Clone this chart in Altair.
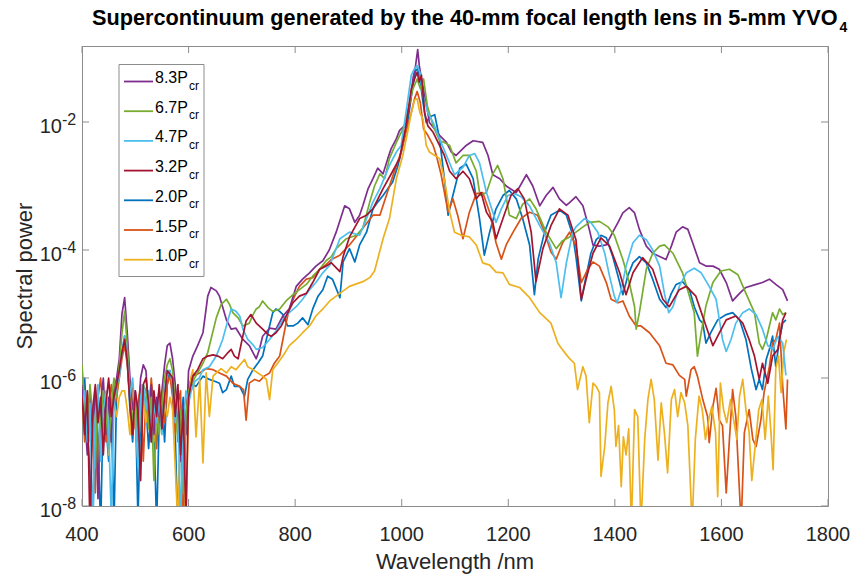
import altair as alt
import pandas as pd

# ---------------- data ----------------
LEGEND_LABELS = ["8.3", "6.7", "4.7", "3.2", "2.0", "1.5", "1.0"]
COLORS = {"8.3": "#7E2F8E", "6.7": "#77AC30", "4.7": "#4DBEEE", "3.2": "#A2142F",
          "2.0": "#0072BD", "1.5": "#D95319", "1.0": "#EDB120"}
DRAW_ORDER = ["2.0", "1.5", "1.0", "8.3", "6.7", "4.7", "3.2"]

WL_SHORT = [400, 405, 410, 415, 420, 425, 430, 435, 440, 445, 450, 455, 460, 465, 470, 475, 480, 485, 490, 495,
            500, 505, 510, 515, 520, 525, 530, 535, 540, 545, 550, 555, 560, 565, 570, 575, 580, 585, 590, 595, 600]

# 8.3 Pcr
WL_83 = WL_SHORT + [608, 617, 627, 636, 642, 652, 658, 671, 680, 689, 702, 714, 727, 733, 739, 752, 764, 777, 789, 802,
                    814, 827, 839, 852, 864, 877, 893, 902, 912, 921, 927, 937, 946, 955, 965, 974, 980, 990, 996, 1005,
                    1015, 1021, 1026, 1030, 1033, 1037, 1043, 1049, 1052, 1071, 1084, 1093, 1102, 1121, 1134, 1152, 1162, 1171, 1184, 1196,
                    1215, 1234, 1246, 1259, 1271, 1284, 1296, 1309, 1315, 1327, 1340, 1352, 1359, 1371, 1384, 1396, 1406, 1415, 1427, 1437,
                    1446, 1459, 1471, 1484, 1496, 1506, 1515, 1527, 1537, 1546, 1559, 1571, 1584, 1596, 1609, 1621, 1634, 1646, 1665, 1677,
                    1690, 1702, 1715, 1724]
P_83 = [7.9e-7, 2.5e-7, 6.3e-8, 5.0e-7, 1.6e-7, 6.3e-7, 1.3e-8, 4.0e-7, 1.0e-6, 1.3e-7, 5.0e-7, 1.0e-7, 6.3e-7, 1.0e-6,
        2.0e-6, 1.0e-5, 1.8e-5, 5.0e-6, 1.0e-6, 3.2e-7, 6.3e-7, 1.6e-7, 1.0e-6, 1.6e-6, 1.3e-6, 3.2e-7, 7.9e-7, 1.3e-7,
        5.0e-7, 2.5e-7, 6.3e-7, 1.6e-6, 3.2e-6, 3.5e-6, 2.0e-6, 7.9e-7, 2.5e-7, 5.0e-8, 4.0e-7, 1.3e-7, 1.3e-6,
        2.2e-6, 3.2e-6, 5.1e-6, 1.9e-5, 2.6e-5, 2.3e-5, 1.9e-5, 8.1e-6, 5.8e-6, 6.0e-6,
        4.0e-6, 3.2e-6, 2.0e-6, 2.8e-6, 4.5e-6, 6.0e-6, 5.8e-6, 9.3e-6, 1.2e-5, 2.7e-5,
        3.5e-5, 4.4e-5, 5.6e-5, 6.8e-5, 1.0e-4, 1.9e-4, 4.9e-4, 4.4e-4, 2.7e-4, 3.5e-4,
        4.9e-4, 9.1e-4, 1.3e-3, 1.9e-3, 1.55e-3, 2.7e-3, 3.8e-3, 5.5e-3, 7.4e-3, 8.7e-3,
        1.8e-2, 4.7e-2, 7.6e-2, 0.135, 7.6e-2, 4.7e-2, 2.6e-2, 1.4e-2, 9.8e-3, 6.2e-3,
        4.8e-3, 3.4e-3, 3.0e-3, 4.3e-3, 5.1e-3, 4.8e-3, 3.0e-3, 1.5e-3, 1.3e-3, 1.0e-3,
        7.9e-4, 1.5e-3, 1.0e-3, 4.9e-4, 7.1e-4, 9.5e-4, 6.3e-4, 5.0e-4, 5.5e-4, 6.8e-4,
        4.9e-4, 2.1e-4, 1.2e-4, 1.15e-4, 1.2e-4, 1.9e-4, 2.7e-4, 3.8e-4, 4.6e-4, 3.8e-4,
        2.1e-4, 1.15e-4, 8.9e-5, 7.9e-5, 7.1e-5, 1.15e-4, 1.9e-4, 2.3e-4, 2.1e-4, 1.3e-4,
        6.3e-5, 5.6e-5, 5.6e-5, 5.0e-5, 3.1e-5, 1.6e-5, 2.1e-5, 2.6e-5, 2.9e-5, 3.1e-5,
        3.5e-5, 2.9e-5, 2.4e-5, 1.6e-5]

# 6.7 Pcr
WL_67 = WL_SHORT + [608, 617, 627, 636, 642, 652, 661, 671, 677, 683, 693, 702, 708, 714, 721, 727, 733, 739, 749, 758,
                    771, 783, 796, 808, 821, 833, 846, 858, 868, 877, 896, 915, 927, 940, 949, 959, 968, 977, 990, 1005,
                    1015, 1021, 1029, 1035, 1041, 1048, 1059, 1071, 1080, 1090, 1102, 1115, 1127, 1140, 1147, 1159, 1171, 1180, 1190, 1202,
                    1215, 1227, 1240, 1252, 1271, 1290, 1302, 1315, 1334, 1352, 1371, 1387, 1399, 1415, 1427, 1437, 1440, 1446, 1459, 1471,
                    1484, 1493, 1509, 1527, 1540, 1549, 1555, 1562, 1571, 1584, 1599, 1615, 1631, 1646, 1662, 1671, 1677, 1684, 1690, 1696,
                    1702, 1709, 1715, 1721]
P_67 = [1.6e-6, 4.0e-7, 1.3e-7, 7.9e-7, 2.5e-7, 4.0e-8, 5.0e-7, 1.6e-7, 6.3e-7, 3.2e-7, 7.9e-8, 4.0e-7, 1.0e-6, 5.0e-7,
        1.6e-6, 5.0e-6, 1.1e-5, 3.2e-6, 6.3e-7, 2.0e-7, 5.0e-7, 1.0e-7, 4.0e-7, 7.9e-7, 6.3e-7, 1.6e-7, 5.0e-7, 2.5e-8,
        3.2e-7, 1.3e-7, 4.0e-7, 1.0e-6, 1.6e-6, 2.0e-6, 1.3e-6, 4.0e-7, 1.0e-7, 3.2e-7, 1.6e-8, 2.5e-7, 6.3e-7,
        8.9e-7, 1.2e-6, 1.7e-6, 2.5e-6, 4.0e-6, 8.7e-6, 1.4e-5, 1.7e-5, 1.4e-5, 1.05e-5,
        8.7e-6, 6.5e-6, 6.8e-6, 7.2e-6, 9.8e-6, 1.2e-5, 1.3e-5, 1.6e-5, 1.26e-5, 1.1e-5,
        1.2e-5, 1.6e-5, 2.0e-5, 2.4e-5, 2.9e-5, 3.9e-5, 5.0e-5, 6.8e-5, 7.9e-5, 1.05e-4,
        1.5e-4, 1.7e-4, 2.2e-4, 5.6e-4, 1.0e-3, 1.55e-3, 1.3e-3, 2.7e-3, 4.8e-3, 8.7e-3,
        2.0e-2, 3.3e-2, 4.7e-2, 3.3e-2, 4.7e-2, 1.8e-2, 8.7e-3, 5.1e-3, 4.8e-3, 4.3e-3,
        2.3e-3, 3.0e-3, 3.0e-3, 1.7e-3, 7.1e-4, 7.9e-4, 1.55e-3, 2.1e-3, 1.3e-3, 3.5e-4,
        3.1e-4, 5.2e-4, 6.3e-4, 4.4e-4, 1.9e-4, 1.05e-4, 1.4e-4, 1.6e-4, 2.1e-4, 2.7e-4,
        2.8e-4, 2.3e-4, 1.7e-4, 7.1e-5, 3.1e-5, 1.3e-5, 5.8e-6, 1.05e-5, 5.0e-5, 8.9e-5,
        1.15e-4, 1.2e-4, 8.9e-5, 4.4e-5, 1.9e-5, 1.05e-5, 2.2e-6, 5.1e-6, 1.35e-5, 3.1e-5,
        4.7e-5, 5.0e-5, 4.1e-5, 2.1e-5, 1.05e-5, 3.5e-6, 2.8e-6, 4.0e-6, 6.5e-6, 1.05e-5,
        8.1e-6, 1.2e-5, 9.8e-6, 1.05e-5]

# 4.7 Pcr
WL_47 = WL_SHORT + [605, 612, 620, 627, 639, 652, 664, 674, 680, 689, 696, 702, 711, 721, 727, 739, 752, 764, 777, 789,
                    802, 814, 827, 839, 852, 865, 884, 902, 921, 934, 946, 959, 977, 990, 999, 1008, 1018, 1024, 1029, 1034,
                    1040, 1049, 1059, 1071, 1084, 1099, 1115, 1127, 1137, 1146, 1159, 1171, 1177, 1187, 1199, 1212, 1224, 1240, 1259, 1277,
                    1290, 1299, 1309, 1321, 1327, 1343, 1355, 1368, 1381, 1390, 1399, 1404, 1412, 1421, 1434, 1446, 1459, 1471, 1484, 1493,
                    1501, 1509, 1521, 1534, 1549, 1562, 1577, 1590, 1602, 1609, 1618, 1627, 1640, 1652, 1665, 1677, 1687, 1696, 1706, 1715,
                    1721]
P_47 = [3.2e-7, 6.3e-7, 1.0e-7, 4.0e-7, 5.0e-9, 2.5e-7, 7.9e-7, 5.0e-8, 3.2e-7, 6.3e-7, 1.6e-7, 6.3e-9, 4.0e-7, 7.9e-7,
        1.0e-6, 2.5e-6, 4.5e-6, 2.0e-6, 5.0e-7, 1.0e-6, 2.5e-7, 4.0e-8, 5.0e-7, 7.9e-7, 3.2e-7, 6.3e-7, 1.0e-7, 4.0e-7,
        2.0e-7, 5.0e-7, 1.3e-7, 6.3e-7, 1.3e-6, 1.3e-6, 7.9e-7, 2.0e-7, 5.0e-7, 5.0e-9, 1.6e-7, 6.3e-7, 4.0e-7,
        6.3e-7, 8.9e-7, 1.0e-6, 1.35e-6, 1.5e-6, 2.2e-6, 4.0e-6, 8.1e-6, 1.2e-5, 1.1e-5,
        9.3e-6, 5.8e-6, 4.0e-6, 3.3e-6, 2.8e-6, 3.0e-6, 4.0e-6, 5.4e-6, 8.1e-6, 1.05e-5,
        1.3e-5, 1.7e-5, 2.4e-5, 3.1e-5, 4.4e-5, 5.8e-5, 1.5e-4, 1.9e-4, 1.7e-4, 3.1e-4,
        5.6e-4, 9.1e-4, 2.1e-3, 3.4e-3, 4.3e-3, 1.4e-2, 5.4e-2, 6.8e-2, 7.6e-2, 6.0e-2,
        2.6e-2, 1.4e-2, 9.8e-3, 5.5e-3, 3.0e-3, 1.5e-3, 1.95e-3, 3.0e-3, 3.2e-3, 2.3e-3,
        7.9e-4, 3.9e-4, 2.7e-4, 4.4e-4, 7.1e-4, 7.6e-4, 6.8e-4, 4.9e-4, 2.4e-4, 1.3e-4,
        6.3e-5, 1.8e-5, 6.3e-5, 1.9e-4, 2.3e-4, 3.1e-4, 2.7e-4, 1.9e-4, 8.9e-5, 3.9e-5,
        1.9e-5, 1.5e-5, 2.4e-5, 5.6e-5, 1.3e-4, 1.7e-4, 1.45e-4, 1.0e-4, 5.6e-5, 2.1e-5,
        1.05e-5, 1.3e-5, 2.7e-5, 4.4e-5, 5.2e-5, 4.4e-5, 2.7e-5, 1.7e-5, 4.0e-6, 2.6e-6,
        4.0e-6, 7.2e-6, 1.05e-5, 1.2e-5, 9.8e-6, 5.8e-6, 3.2e-6, 2.8e-6, 4.5e-6, 3.5e-6,
        1.1e-6]

# 3.2 Pcr
WL_32 = WL_SHORT + [608, 617, 627, 636, 646, 655, 664, 674, 680, 686, 693, 699, 708, 717, 727, 739, 749, 755, 764, 774,
                    783, 796, 808, 821, 833, 846, 858, 868, 884, 890, 902, 921, 934, 946, 965, 983, 996, 1008, 1018, 1024,
                    1029, 1033, 1037, 1043, 1049, 1059, 1071, 1080, 1090, 1102, 1115, 1127, 1140, 1149, 1159, 1171, 1177, 1190, 1205, 1218,
                    1230, 1243, 1252, 1265, 1280, 1296, 1312, 1327, 1337, 1346, 1359, 1374, 1390, 1409, 1421, 1434, 1452, 1471, 1490, 1502,
                    1521, 1534, 1552, 1565, 1571, 1584, 1593, 1609, 1627, 1640, 1652, 1662, 1671, 1677, 1687, 1696, 1706, 1715, 1721]
P_32 = [5.0e-7, 1.3e-7, 6.3e-7, 4.0e-9, 3.2e-7, 7.9e-7, 2.0e-7, 5.0e-7, 6.3e-8, 4.0e-7, 1.0e-6, 2.5e-7, 5.0e-7, 7.9e-7,
        1.3e-6, 2.5e-6, 4.0e-6, 1.8e-6, 4.0e-7, 1.3e-7, 6.3e-7, 3.2e-7, 2.5e-8, 7.9e-7, 1.0e-6, 4.0e-7, 1.0e-7, 6.3e-7,
        2.5e-7, 7.9e-7, 1.6e-7, 5.0e-7, 1.3e-6, 1.15e-6, 1.0e-6, 2.5e-7, 7.9e-7, 6.3e-8, 3.2e-7, 6.3e-9, 5.0e-7,
        1.07e-6, 1.35e-6, 2.0e-6, 2.2e-6, 2.3e-6, 2.2e-6, 2.0e-6, 2.5e-6, 2.8e-6, 2.2e-6,
        2.0e-6, 3.5e-6, 7.8e-6, 9.8e-6, 7.2e-6, 5.8e-6, 4.8e-6, 4.5e-6, 5.1e-6, 6.5e-6,
        9.3e-6, 1.5e-5, 1.9e-5, 2.1e-5, 3.1e-5, 5.0e-5, 5.6e-5, 6.3e-5, 4.6e-5, 7.9e-5,
        1.6e-4, 3.1e-4, 3.5e-4, 4.4e-4, 9.1e-4, 1.7e-3, 2.7e-3, 8.7e-3, 3.3e-2, 4.7e-2,
        6.0e-2, 4.2e-2, 5.4e-2, 1.4e-2, 8.7e-3, 6.9e-3, 4.3e-3, 3.0e-3, 1.7e-3, 1.3e-3,
        1.7e-3, 1.3e-3, 6.3e-4, 7.9e-4, 3.9e-4, 2.7e-4, 1.5e-4, 3.1e-4, 7.1e-4, 9.1e-4,
        6.3e-4, 1.9e-4, 3.2e-5, 1.05e-4, 2.4e-4, 4.4e-4, 3.5e-4, 1.45e-4, 1.7e-5, 3.5e-5,
        8.9e-5, 1.55e-4, 1.15e-4, 4.4e-5, 2.0e-5, 4.4e-5, 7.6e-5, 5.0e-5, 1.7e-5, 1.3e-5,
        2.4e-5, 2.7e-5, 1.9e-5, 9.1e-6, 6.5e-6, 3.2e-6, 4.5e-6, 8.1e-6, 9.3e-6, 7.2e-6,
        4.0e-6, 2.2e-6, 9.5e-7, 1.7e-6, 8.3e-7, 2.2e-6, 2.8e-6, 8.1e-6, 1.05e-5]

# 2.0 Pcr
WL_20 = WL_SHORT + [602, 614, 627, 639, 649, 658, 664, 671, 680, 686, 696, 705, 711, 721, 730, 739, 746, 752, 758, 764,
                    771, 777, 786, 796, 805, 814, 824, 833, 843, 852, 861, 870, 884, 890, 902, 912, 921, 934, 946, 955,
                    965, 974, 983, 993, 1002, 1011, 1021, 1026, 1030, 1035, 1040, 1046, 1052, 1062, 1071, 1080, 1087, 1096, 1109, 1121,
                    1134, 1146, 1155, 1165, 1177, 1190, 1202, 1215, 1227, 1240, 1249, 1256, 1268, 1280, 1296, 1309, 1321, 1327, 1337, 1346,
                    1355, 1365, 1374, 1384, 1396, 1406, 1415, 1424, 1434, 1446, 1459, 1471, 1484, 1496, 1506, 1515, 1527, 1540, 1549, 1559,
                    1565, 1571, 1580, 1593, 1609, 1621, 1634, 1646, 1656, 1665, 1671, 1677, 1684, 1690, 1696, 1702, 1709, 1715, 1721]
P_20 = [2.5e-7, 1.0e-6, 1.6e-7, 3.2e-8, 3.2e-9, 4.0e-7, 1.3e-7, 4.0e-9, 5.0e-7, 2.0e-7, 5.0e-8, 3.2e-7, 5.0e-9, 6.3e-7,
        1.3e-6, 2.5e-6, 4.5e-6, 2.0e-6, 3.2e-7, 1.0e-7, 5.0e-7, 6.3e-9, 2.5e-7, 6.3e-7, 4.0e-7, 7.9e-8, 3.2e-7, 1.6e-7,
        5.0e-9, 2.5e-7, 5.0e-7, 1.0e-7, 7.9e-7, 1.3e-6, 6.3e-7, 1.3e-7, 4.0e-9, 2.0e-7, 5.0e-7, 1.6e-7, 4.0e-7,
        8.3e-7, 7.4e-7, 1.07e-6, 9.5e-7, 8.9e-7, 8.3e-7, 5.9e-7, 6.6e-7, 1.07e-6, 7.4e-7,
        7.4e-7, 5.2e-7, 9.5e-7, 1.35e-6, 1.7e-6, 2.2e-6, 4.0e-6, 6.5e-6, 1.05e-5, 1.2e-5,
        1.1e-5, 9.8e-6, 6.5e-6, 6.5e-6, 7.2e-6, 8.7e-6, 6.8e-6, 1.2e-5, 1.9e-5, 2.4e-5,
        3.9e-5, 3.5e-5, 1.8e-5, 6.5e-5, 1.05e-4, 6.5e-5, 1.2e-4, 1.9e-4, 4.4e-4, 5.6e-4,
        7.1e-4, 9.1e-4, 1.15e-3, 2.1e-3, 4.3e-3, 9.8e-3, 3.7e-2, 6.3e-2, 6.8e-2, 4.2e-2,
        2.0e-2, 9.8e-3, 1.2e-2, 1.3e-2, 5.5e-3, 1.3e-3, 3.5e-4, 7.1e-4, 1.9e-3, 2.2e-3,
        1.3e-3, 3.1e-4, 8.3e-5, 1.9e-4, 4.4e-4, 7.1e-4, 8.5e-4, 6.3e-4, 3.1e-4, 1.2e-4,
        2.0e-5, 7.2e-5, 1.9e-4, 3.5e-4, 4.2e-4, 3.5e-4, 1.7e-4, 7.9e-5, 1.6e-5, 3.9e-5,
        8.9e-5, 1.45e-4, 1.7e-4, 1.55e-4, 7.9e-5, 3.9e-5, 2.0e-5, 3.9e-5, 6.3e-5, 7.9e-5,
        6.3e-5, 3.5e-5, 1.7e-5, 1.26e-5, 2.1e-5, 2.9e-5, 3.2e-5, 2.4e-5, 1.3e-5, 8.1e-6,
        7.2e-6, 3.5e-6, 5.1e-6, 8.1e-6, 9.8e-6, 1.05e-5, 8.1e-6, 4.0e-6, 1.4e-6, 6.6e-7,
        9.5e-7, 6.6e-7, 1.95e-6, 2.8e-6, 4.5e-6, 1.5e-6, 4.0e-6, 7.2e-6, 8.1e-6]

# 1.5 Pcr
WL_15 = WL_SHORT + [608, 621, 633, 646, 658, 671, 683, 696, 703, 708, 714, 724, 733, 742, 752, 761, 771, 777, 783, 789,
                    799, 808, 821, 833, 846, 858, 868, 884, 902, 921, 946, 959, 977, 990, 999, 1008, 1018, 1024, 1029, 1035,
                    1041, 1049, 1059, 1065, 1074, 1087, 1096, 1105, 1115, 1127, 1140, 1152, 1165, 1177, 1187, 1196, 1209, 1224, 1240, 1255,
                    1268, 1280, 1290, 1302, 1315, 1327, 1337, 1349, 1359, 1371, 1384, 1393, 1406, 1415, 1427, 1440, 1449, 1465, 1484, 1496,
                    1509, 1521, 1531, 1534, 1543, 1549, 1555, 1565, 1574, 1577, 1584, 1590, 1596, 1602, 1609, 1615, 1621, 1627, 1637, 1643,
                    1652, 1659, 1665, 1674, 1680, 1690, 1696, 1702, 1709, 1715, 1721, 1724]
P_15 = [6.3e-7, 1.0e-7, 3.2e-7, 6.3e-7, 1.3e-7, 1.6e-8, 5.0e-7, 1.0e-6, 2.5e-7, 1.0e-7, 4.0e-7, 7.9e-7, 3.2e-7, 5.0e-7,
        1.0e-6, 2.0e-6, 3.3e-6, 1.6e-6, 5.0e-7, 7.9e-7, 1.6e-7, 4.0e-7, 7.9e-7, 5.0e-8, 5.0e-7, 2.5e-7, 1.0e-6, 3.2e-7,
        7.9e-8, 4.0e-7, 6.3e-7, 2.0e-7, 7.9e-7, 1.1e-6, 5.0e-7, 1.3e-7, 4.0e-7, 6.3e-7, 3.2e-9, 2.5e-7, 7.9e-7,
        1.07e-6, 1.2e-6, 1.4e-6, 1.35e-6, 1.2e-6, 1.07e-6, 8.3e-7, 7.4e-7, 6.6e-7, 2.2e-7,
        8.3e-7, 9.5e-7, 8.9e-7, 1.07e-6, 1.2e-6, 1.7e-6, 2.2e-6, 4.0e-6, 7.2e-6, 1.2e-5,
        1.9e-5, 2.7e-5, 3.5e-5, 3.7e-5, 5.0e-5, 5.9e-5, 7.1e-5, 8.3e-5, 1.2e-4, 1.9e-4,
        3.5e-4, 3.5e-4, 1.0e-3, 2.1e-3, 3.4e-3, 6.9e-3, 1.4e-2, 2.3e-2, 3.0e-2, 2.0e-2,
        7.8e-3, 6.2e-3, 4.3e-3, 3.0e-3, 1.5e-3, 3.9e-4, 6.3e-4, 3.5e-4, 1.5e-4, 3.9e-4,
        7.6e-4, 7.9e-4, 3.9e-4, 1.3e-4, 7.2e-5, 1.2e-4, 1.9e-4, 3.1e-4, 3.9e-4, 3.5e-4,
        1.9e-4, 9.3e-5, 7.2e-5, 1.3e-4, 1.9e-4, 1.15e-4, 3.1e-5, 5.0e-5, 6.5e-5, 5.6e-5,
        3.1e-5, 1.7e-5, 1.5e-5, 1.6e-5, 9.3e-6, 6.5e-6, 6.5e-6, 5.1e-6, 3.2e-6, 1.7e-6,
        1.6e-6, 1.1e-6, 9.5e-7, 5.2e-7, 1.35e-6, 1.5e-6, 1.07e-6, 4.6e-7, 2.5e-7, 9.8e-8,
        3.6e-7, 6.9e-7, 2.2e-7, 1.8e-7, 1.6e-8, 1.1e-7, 6.6e-7, 2.5e-7, 5.0e-9, 1.4e-7,
        3.2e-7, 1.1e-7, 8.5e-8, 2.2e-7, 5.9e-7, 1.5e-6, 3.5e-6, 4.0e-6, 7.2e-6, 7.4e-7,
        1.6e-7, 9.5e-7]

# 1.0 Pcr
WL_10 = WL_SHORT + [604, 608, 614, 621, 627, 633, 639, 646, 652, 661, 671, 680, 689, 699, 705, 711, 721, 730, 739, 746,
                    752, 758, 767, 777, 789, 802, 814, 827, 839, 852, 865, 884, 902, 927, 940, 949, 965, 977, 990, 1002,
                    1011, 1018, 1024, 1029, 1034, 1040, 1046, 1052, 1062, 1071, 1080, 1090, 1099, 1112, 1127, 1140, 1152, 1165, 1177, 1190,
                    1202, 1221, 1240, 1259, 1280, 1293, 1302, 1315, 1324, 1330, 1340, 1346, 1352, 1359, 1365, 1371, 1374, 1381, 1387, 1393,
                    1399, 1402, 1407, 1412, 1416, 1421, 1426, 1431, 1437, 1443, 1449, 1456, 1462, 1468, 1474, 1481, 1487, 1493, 1499, 1506,
                    1512, 1518, 1524, 1531, 1537, 1545, 1551, 1558, 1564, 1570, 1576, 1582, 1589, 1593, 1598, 1604, 1610, 1617, 1623, 1629,
                    1634, 1640, 1646, 1652, 1657, 1664, 1670, 1676, 1682, 1688, 1693, 1697, 1702, 1707, 1712, 1717, 1722]
P_10 = [4.0e-7, 1.6e-7, 5.0e-7, 1.0e-7, 3.2e-7, 2.0e-7, 2.5e-8, 4.0e-7, 2.5e-7, 5.0e-7, 6.3e-8, 3.2e-7, 4.0e-7, 2.5e-7,
        5.0e-7, 6.3e-7, 6.3e-7, 3.2e-7, 1.3e-7, 5.0e-7, 2.5e-7, 5.0e-8, 4.0e-7, 6.3e-7, 2.0e-7, 5.0e-7, 3.2e-7, 1.0e-7,
        4.0e-7, 6.3e-7, 1.6e-7, 4.0e-7, 2.5e-7, 5.0e-7, 3.2e-7, 4.0e-8, 5.0e-9, 2.5e-7, 7.9e-8, 4.0e-9, 4.0e-7,
        1.0e-6, 1.35e-6, 1.2e-7, 9.5e-7, 4.7e-8, 1.2e-6, 2.5e-7, 1.07e-6, 1.2e-6, 1.4e-6,
        1.2e-6, 1.5e-6, 1.35e-6, 1.7e-6, 1.95e-6, 1.5e-6, 1.35e-6, 1.2e-6, 1.07e-6, 9.5e-7,
        4.6e-7, 1.35e-6, 1.7e-6, 2.2e-6, 3.2e-6, 4.0e-6, 5.1e-6, 6.5e-6, 9.3e-6, 1.2e-5,
        1.6e-5, 2.1e-5, 2.7e-5, 3.2e-5, 3.7e-5, 4.7e-5, 1.5e-4, 3.1e-4, 1.3e-3, 3.0e-3,
        6.9e-3, 1.4e-2, 2.2e-2, 2.3e-2, 1.4e-2, 1.1e-2, 4.3e-3, 3.4e-3, 3.0e-3, 2.7e-3,
        1.3e-3, 3.9e-4, 1.9e-4, 1.7e-4, 1.6e-4, 1.2e-4, 6.3e-5, 5.8e-5, 4.5e-5, 4.4e-5,
        2.9e-5, 2.6e-5, 1.8e-5, 1.05e-5, 7.2e-6, 3.5e-6, 2.75e-6, 2.0e-6, 1.7e-6, 6.6e-7,
        1.5e-6, 1.07e-6, 2.0e-7, 8.3e-7, 7.4e-7, 5.9e-7, 2.9e-8, 8.5e-8, 4.1e-7, 7.4e-7,
        3.2e-7, 8.5e-8, 1.8e-7, 2.0e-8, 1.2e-7, 6.3e-8, 1.6e-7, 5.0e-9, 3.2e-7, 2.5e-7,
        5.0e-9, 1.1e-7, 4.6e-7, 9.5e-7, 4.6e-7, 5.2e-8, 4.1e-7, 1.4e-7, 3.3e-8, 4.6e-7,
        6.6e-7, 2.5e-7, 5.9e-7, 4.1e-7, 1.8e-7, 5.0e-9, 1.1e-7, 5.2e-7, 3.2e-7, 1.1e-7,
        2.2e-7, 3.6e-7, 1.4e-7, 1.4e-8, 8.3e-7, 3.2e-7, 2.0e-7, 4.6e-7, 2.2e-7, 1.1e-7,
        5.2e-7, 9.5e-7, 3.2e-7, 1.4e-7, 2.5e-8, 9.8e-8, 3.2e-7, 4.6e-7, 1.1e-7, 5.2e-7,
        1.4e-7, 3.7e-8, 1.4e-6, 2.2e-6, 5.9e-7, 2.5e-6, 4.0e-6]

X_TICKS = [400, 600, 800, 1000, 1200, 1400, 1600, 1800]
Y_TICKS = [1e-8, 1e-6, 1e-4, 1e-2]
Y_EXP = ["-8", "-6", "-4", "-2"]

TITLE = "Supercontinuum generated by the 40-mm focal length lens in 5-mm YVO"
TITLE_SUB = "4"
X_TITLE = "Wavelength /nm"
Y_TITLE = "Spectral power"

# ---------------- layout / style ----------------
W, H = 746, 460
FONT = "Liberation Sans"
TXT = "#262626"
AXC = "#8c8c8c"

SERIES = {"8.3": (WL_83, P_83), "6.7": (WL_67, P_67), "4.7": (WL_47, P_47), "3.2": (WL_32, P_32),
          "2.0": (WL_20, P_20), "1.5": (WL_15, P_15), "1.0": (WL_10, P_10)}
frames = [pd.DataFrame({"wl": wl, "p": p, "series": name}) for name, (wl, p) in SERIES.items()]
df = pd.concat(frames, ignore_index=True)

xs = alt.Scale(domain=[400, 1800], nice=False, zero=False)
ys = alt.Scale(type="log", domain=[1e-8, 0.154], nice=False)

layers = []
base = alt.Chart(df)
for s in DRAW_ORDER:
    layers.append(
        base.transform_filter(alt.datum.series == s)
        .mark_line(color=COLORS[s], strokeWidth=1.7, clip=True, strokeJoin="round")
        .encode(x=alt.X("wl:Q", scale=xs, axis=None), y=alt.Y("p:Q", scale=ys, axis=None))
    )

xt = pd.DataFrame({"wl": X_TICKS, "lab": [str(v) for v in X_TICKS]})
yt = pd.DataFrame({"p": Y_TICKS, "exp": Y_EXP, "base": ["10"] * len(Y_TICKS)})

TL = 7
ticks = [
    alt.Chart(xt).mark_rule(color=AXC).encode(x=alt.X("wl:Q", scale=xs, axis=None), y=alt.value(H), y2=alt.value(H - TL)),
    alt.Chart(xt).mark_rule(color=AXC).encode(x=alt.X("wl:Q", scale=xs, axis=None), y=alt.value(0), y2=alt.value(TL)),
    alt.Chart(yt).mark_rule(color=AXC).encode(y=alt.Y("p:Q", scale=ys, axis=None), x=alt.value(0), x2=alt.value(TL)),
    alt.Chart(yt).mark_rule(color=AXC).encode(y=alt.Y("p:Q", scale=ys, axis=None), x=alt.value(W - TL), x2=alt.value(W)),
]

xlabels = alt.Chart(xt).mark_text(font=FONT, fontSize=20, color=TXT, align="center", baseline="alphabetic").encode(
    x=alt.X("wl:Q", scale=xs, axis=None), y=alt.value(H + 35), text="lab:N")
ylab_base = alt.Chart(yt).mark_text(font=FONT, fontSize=20, color=TXT, align="right", baseline="alphabetic", dy=11).encode(
    y=alt.Y("p:Q", scale=ys, axis=None), x=alt.value(-20), text="base:N")
ylab_exp = alt.Chart(yt).mark_text(font=FONT, fontSize=16, color=TXT, align="left", baseline="alphabetic", dy=3).encode(
    y=alt.Y("p:Q", scale=ys, axis=None), x=alt.value(-20), text="exp:N")

xtitle = alt.Chart(pd.DataFrame({"t": [X_TITLE]})).mark_text(
    font=FONT, fontSize=22, color=TXT, align="center", baseline="alphabetic").encode(
    x=alt.value(W / 2), y=alt.value(H + 63), text="t:N")
ytitle = alt.Chart(pd.DataFrame({"t": [Y_TITLE]})).mark_text(
    font=FONT, fontSize=22, color=TXT, align="center", baseline="alphabetic", angle=270).encode(
    x=alt.value(-50), y=alt.value(H / 2), text="t:N")

title_main = alt.Chart(pd.DataFrame({"t": [TITLE]})).mark_text(
    font=FONT, fontSize=21.7, fontWeight="bold", color="#000000", align="left", baseline="alphabetic").encode(
    x=alt.value(10), y=alt.value(-21), text="t:N")
title_sub = alt.Chart(pd.DataFrame({"t": [TITLE_SUB]})).mark_text(
    font=FONT, fontSize=14, fontWeight="bold", color="#000000", align="left", baseline="alphabetic").encode(
    x=alt.value(757.5), y=alt.value(-14), text="t:N")

# legend (drawn by hand so that the "cr" subscript can be shown)
ROW0, ROWSTEP = 35.5, 29.7
leg = pd.DataFrame({"s": LEGEND_LABELS})
leg["ly"] = [ROW0 + i * ROWSTEP for i in range(len(LEGEND_LABELS))]
leg["lyt"] = leg["ly"] + 1.5
leg["lys"] = leg["ly"] + 8
leg["t"] = [s + "P" for s in LEGEND_LABELS]
leg["sub"] = "cr"

legend_box = alt.Chart(pd.DataFrame({"a": [0]})).mark_rect(fill="white", stroke=AXC, strokeWidth=1).encode(
    x=alt.value(37), x2=alt.value(122), y=alt.value(18.5), y2=alt.value(230.5))
legend_lines = alt.Chart(leg).mark_rule(strokeWidth=1.8).encode(
    x=alt.value(42), x2=alt.value(71), y=alt.Y("ly:Q", scale=None),
    color=alt.Color("s:N", scale=alt.Scale(domain=LEGEND_LABELS, range=[COLORS[s] for s in LEGEND_LABELS]), legend=None))
legend_text = alt.Chart(leg).mark_text(font=FONT, fontSize=16, color="#000000", align="left", baseline="alphabetic").encode(
    x=alt.value(73), y=alt.Y("lyt:Q", scale=None), text="t:N")
legend_sub = alt.Chart(leg).mark_text(font=FONT, fontSize=12, color="#000000", align="left", baseline="alphabetic").encode(
    x=alt.value(107), y=alt.Y("lys:Q", scale=None), text="sub:N")

chart = alt.layer(
    *layers, *ticks, xlabels, ylab_base, ylab_exp, xtitle, ytitle, title_main, title_sub,
    legend_box, legend_lines, legend_text, legend_sub
).properties(
    width=W, height=H,
    autosize=alt.AutoSizeParams(type="none"),
    padding={"left": 82, "top": 46, "right": 29, "bottom": 70},
    background="white",
).configure_view(stroke=AXC, strokeWidth=1)

chart.save("out.html", embed_options={"renderer": "svg", "actions": False})
